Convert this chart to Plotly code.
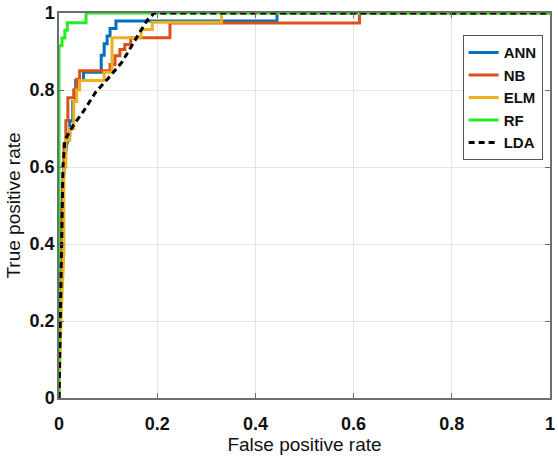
import plotly.graph_objects as go

# ROC curves (false positive rate, true positive rate) for each classifier
ann_fpr = [0, 0.004, 0.008, 0.012, 0.016, 0.022, 0.022, 0.028, 0.028, 0.034, 0.034, 0.05, 0.05,
           0.086, 0.086, 0.092, 0.092, 0.098, 0.098, 0.104, 0.104, 0.116, 0.116, 0.444, 0.444, 1]
ann_tpr = [0, 0.40, 0.55, 0.62, 0.66, 0.68, 0.72, 0.72, 0.77, 0.77, 0.825, 0.825, 0.846,
           0.846, 0.89, 0.89, 0.92, 0.92, 0.94, 0.94, 0.96, 0.96, 0.979, 0.979, 1, 1]

nb_fpr = [0, 0.004, 0.01, 0.01, 0.014, 0.014, 0.018, 0.018, 0.03, 0.03, 0.036, 0.036, 0.042, 0.042,
          0.104, 0.104, 0.114, 0.114, 0.124, 0.124, 0.134, 0.134, 0.146, 0.146, 0.226, 0.226,
          0.612, 0.612, 1]
nb_tpr = [0, 0.45, 0.62, 0.66, 0.66, 0.72, 0.72, 0.78, 0.78, 0.80, 0.80, 0.828, 0.828, 0.85,
          0.85, 0.866, 0.866, 0.889, 0.889, 0.905, 0.905, 0.918, 0.918, 0.936, 0.936, 0.974,
          0.974, 1, 1]

elm_fpr = [0, 0.004, 0.01, 0.01, 0.014, 0.014, 0.022, 0.022, 0.03, 0.03, 0.036, 0.036, 0.042, 0.042,
           0.092, 0.092, 0.108, 0.108, 0.167, 0.167, 0.19, 0.19, 0.331, 0.331, 1]
elm_tpr = [0, 0.2, 0.38, 0.6, 0.6, 0.67, 0.67, 0.70, 0.70, 0.77, 0.77, 0.80, 0.80, 0.825,
           0.825, 0.846, 0.846, 0.936, 0.936, 0.957, 0.957, 0.976, 0.976, 1, 1]

rf_fpr = [0, 0, 0.006, 0.006, 0.012, 0.012, 0.017, 0.017, 0.055, 0.055, 1]
rf_tpr = [0, 0.915, 0.915, 0.935, 0.935, 0.955, 0.955, 0.975, 0.975, 1, 1]

lda_fpr = [0, 0.004, 0.008, 0.012, 0.03, 0.05, 0.075, 0.1, 0.128, 0.16, 0.18, 0.194, 1]
lda_tpr = [0, 0.3, 0.6, 0.67, 0.71, 0.745, 0.795, 0.83, 0.872, 0.94, 0.982, 1, 1]

tick_vals = [0, 0.2, 0.4, 0.6, 0.8, 1]
tick_text = ["0", "0.2", "0.4", "0.6", "0.8", "1"]

series = [
    ("ANN", ann_fpr, ann_tpr, "#0072BD", "solid"),
    ("NB", nb_fpr, nb_tpr, "#D95319", "solid"),
    ("ELM", elm_fpr, elm_tpr, "#EDB120", "solid"),
    ("RF", rf_fpr, rf_tpr, "#22EE22", "solid"),
    ("LDA", lda_fpr, lda_tpr, "#000000", "6px,4px"),
]

fig = go.Figure()
for name, fx, ty, color, dash in series:
    fig.add_trace(go.Scatter(
        x=fx, y=ty, name=name, mode="lines", cliponaxis=False,
        line=dict(color=color, width=3, dash=dash),
    ))

tick_font = dict(family="Liberation Sans Narrow, Liberation Sans, Arial", size=18, color="#111",
                 weight="bold")
title_font = dict(family="Liberation Sans, Arial", size=19, color="#111")

axis_common = dict(
    range=[0, 1], tickvals=tick_vals, ticktext=tick_text,
    showgrid=True, gridcolor="#e4e4e4", gridwidth=1,
    showline=True, linecolor="#6e6e6e", linewidth=1.5, mirror="allticks",
    ticks="inside", ticklen=5, tickcolor="#6e6e6e", zeroline=False,
    tickfont=tick_font, ticklabeloverflow="allow",
)

fig.update_layout(
    width=558, height=464,
    margin=dict(l=59, r=3, t=10, b=66),
    paper_bgcolor="white", plot_bgcolor="white",
    xaxis=dict(**axis_common, ticklabelstandoff=9,
               title=dict(text="False positive rate", font=title_font, standoff=0)),
    yaxis=dict(**axis_common, ticklabelstandoff=-1,
               title=dict(text="True positive rate", font=title_font, standoff=4)),
    legend=dict(
        x=0.985, y=0.942, xanchor="right", yanchor="top",
        bgcolor="white", bordercolor="#555", borderwidth=1,
        font=dict(family="Liberation Sans Narrow, Liberation Sans, Arial", size=15, color="#111",
                  weight="bold"),
        tracegroupgap=0,
    ),
    showlegend=True,
)

fig.write_html("out.html")
